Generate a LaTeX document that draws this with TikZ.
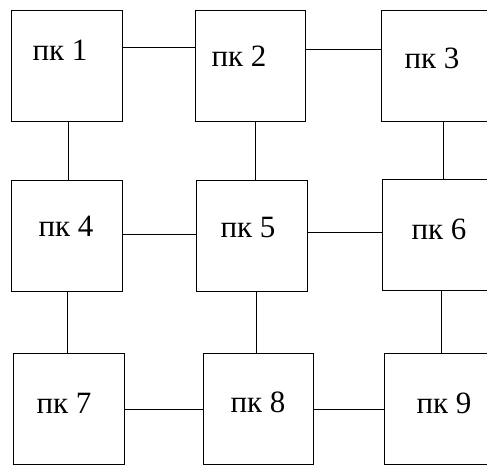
\documentclass[tikz,border=0pt]{standalone}
\usepackage{fontspec}
\setmainfont{Liberation Serif}
\begin{document}
\begin{tikzpicture}[x=1pt,y=-1pt,
  box/.style={draw,line width=1pt,inner sep=0pt,minimum width=#1,minimum height=111pt},
  box/.default=111pt,
  lbl/.style={anchor=base,inner sep=0pt,font=\fontsize{31}{31}\selectfont},
  link/.style={line width=1pt}]
\useasboundingbox (0,0) rectangle (487,466);
\clip (0,0) rectangle (487,466);
\node[box] (b1) at (66.5,65.5) {};
\node[box=110pt] (b2) at (250,65.5) {};
\node[box] (b3) at (437,65.5) {};
\node[box] (b4) at (66.5,236) {};
\node[box] (b5) at (251.5,236) {};
\node[box] (b6) at (438,235) {};
\node[box] (b7) at (68.5,409) {};
\node[box=110pt] (b8) at (258,409) {};
\node[box] (b9) at (440,409) {};
\node[lbl] (t1) at (60,60) {пк 1};
\node[lbl] (t2) at (239,66) {пк 2};
\node[lbl] (t3) at (432,68) {пк 3};
\node[lbl] (t4) at (66,236) {пк 4};
\node[lbl] (t5) at (248,237) {пк 5};
\node[lbl] (t6) at (439,239) {пк 6};
\node[lbl] (t7) at (64,413) {пк 7};
\node[lbl] (t8) at (258,412) {пк 8};
\node[lbl] (t9) at (444,413) {пк 9};
\draw[link] (b1.east |- 0,47) -- (b2.west |- 0,47);
\draw[link] (b2.east |- 0,49) -- (b3.west |- 0,49);
\draw[link] (b4.east |- 0,234) -- (b5.west |- 0,234);
\draw[link] (b5.east |- 0,232) -- (b6.west |- 0,232);
\draw[link] (b7.east |- 0,409) -- (b8.west |- 0,409);
\draw[link] (b8.east |- 0,409) -- (b9.west |- 0,409);
\draw[link] (b1.south -| 68,0) -- (b4.north -| 68,0);
\draw[link] (b2.south -| 255,0) -- (b5.north -| 255,0);
\draw[link] (b3.south -| 443,0) -- (b6.north -| 443,0);
\draw[link] (b4.south -| 67,0) -- (b7.north -| 67,0);
\draw[link] (b5.south -| 256,0) -- (b8.north -| 256,0);
\draw[link] (b6.south -| 441,0) -- (b9.north -| 441,0);
\end{tikzpicture}
\end{document}
